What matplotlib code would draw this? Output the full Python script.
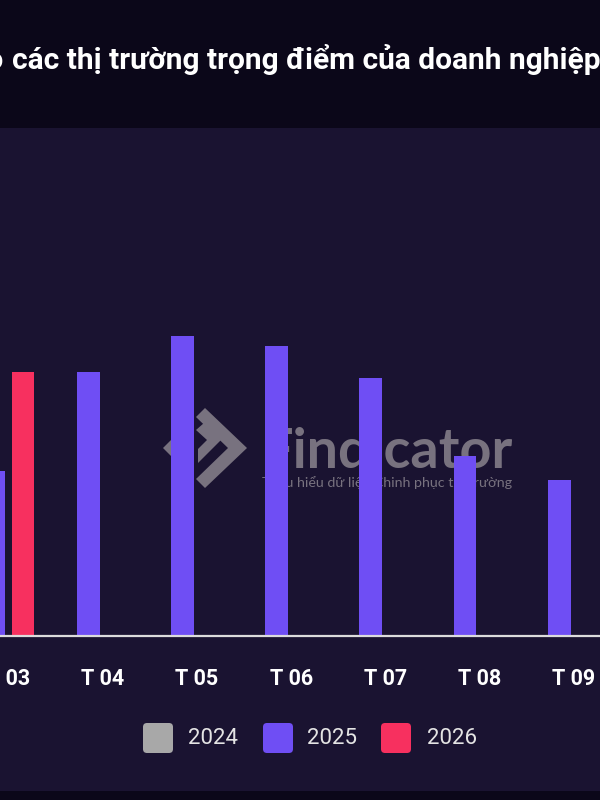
import matplotlib
matplotlib.use('Agg')
import matplotlib.pyplot as plt
import numpy as np
from matplotlib.patches import FancyBboxPatch, Rectangle, Polygon

plt.rcParams['font.family'] = ['Roboto', 'DejaVu Sans']

# du lieu (doc tu hinh)
thang = ['T 03', 'T 04', 'T 05', 'T 06', 'T 07', 'T 08', 'T 09']
nam = ['2024', '2025', '2026']
gt_2024 = [np.nan, np.nan, np.nan, np.nan, np.nan, np.nan, np.nan]
gt_2025 = [82.5, 132, 150, 145, 129, 90, 78]
gt_2026 = [132, np.nan, np.nan, np.nan, np.nan, np.nan, np.nan]
mau = ['#a8a8a8', '#6f4ef4', '#f7305f']

nen_tren = '#0b0719'
nen_giua = '#1a1331'

fig = plt.figure(figsize=(6, 8), dpi=100, facecolor=nen_tren)

# lop nen + watermark (toa do pixel)
bg = fig.add_axes([0, 0, 1, 1], zorder=0)
bg.set_xlim(0, 600)
bg.set_ylim(800, 0)
bg.axis('off')
bg.add_patch(Rectangle((0, 128), 600, 663, color=nen_giua, lw=0))


def fit(t, w):
    # chinh co chu cho vua be rong w pixel
    fig.canvas.draw()
    bb = t.get_window_extent()
    t.set_fontsize(t.get_fontsize() * w / bb.width)


wm = '#78727f'
bg.add_patch(Polygon([(163, 448), (175, 436), (175, 460)], color=wm, lw=0))
bg.add_patch(Polygon([(178, 434), (192, 421), (192, 474), (178, 461)], color=wm, lw=0))
bg.add_patch(Polygon([(196, 417), (205, 408), (247, 448), (205, 488), (196, 479),
                      (228, 448)], color=wm, lw=0))
bg.add_patch(Polygon([(196, 430), (204, 423), (221, 440), (198, 463), (198, 449),
                      (207, 440)], color=wm, lw=0))
t1 = bg.text(262, 468, 'Findicator', fontsize=36, fontweight='bold', color=wm,
             family=['Lato', 'DejaVu Sans'], va='baseline', ha='left')
t2 = bg.text(262, 487, 'Thấu hiểu dữ liệu Chinh phục thị trường', fontsize=9.5,
             color=wm, family=['Lato', 'DejaVu Sans'], va='baseline', ha='left')
fit(t1, 251)
fit(t2, 251)

# tieu de (bi cat hai ben)
tt = bg.text(12, 69, 'các thị trường trọng điểm của doanh nghiệ', fontsize=17,
             fontweight='bold', color='white', va='baseline', ha='left')
fit(tt, 572)
tt.set_text('các thị trường trọng điểm của doanh nghiệp Việt Nam')
bg.text(3, 69, 'Kim ngạch xuất khẩu vào', fontsize=tt.get_fontsize(),
        fontweight='bold', color='white', va='baseline', ha='right')

# bieu do cot
ax = fig.add_axes([0, 1 - 636 / 800, 1, 500 / 800], zorder=1)
ax.patch.set_alpha(0)
x = np.arange(len(thang))
w = 0.244
ax.bar(x - 0.154, gt_2025, width=w, color=mau[1], zorder=2)
ax.bar(x + 0.154, gt_2026, width=w, color=mau[2], zorder=2)
ax.bar(x, gt_2024, width=w, color=mau[0], zorder=2)
ax.set_xlim(-0.0902, 6.279)
ax.set_ylim(0, 250)
ax.set_xticks(x, thang)
ax.set_yticks([])
ax.tick_params(axis='x', length=0, pad=23, labelsize=15.5, labelcolor='white')
for lb in ax.get_xticklabels():
    lb.set_fontweight('bold')
for s in ['top', 'left', 'right']:
    ax.spines[s].set_visible(False)
ax.spines['bottom'].set_color('#dcdcdc')
ax.spines['bottom'].set_linewidth(1.6)

# chu giai
vt_o = [143, 263, 381]
vt_chu = [188, 307, 427]
for i in range(3):
    bg.add_patch(FancyBboxPatch((vt_o[i] + 4, 727), 22, 22,
                                boxstyle='round,pad=4', color=mau[i], lw=0))
    bg.text(vt_chu[i], 739, nam[i], fontsize=16, color='#e4e4e4',
            va='center', ha='left')

fig.savefig('out.png', dpi=100, facecolor=nen_tren)
